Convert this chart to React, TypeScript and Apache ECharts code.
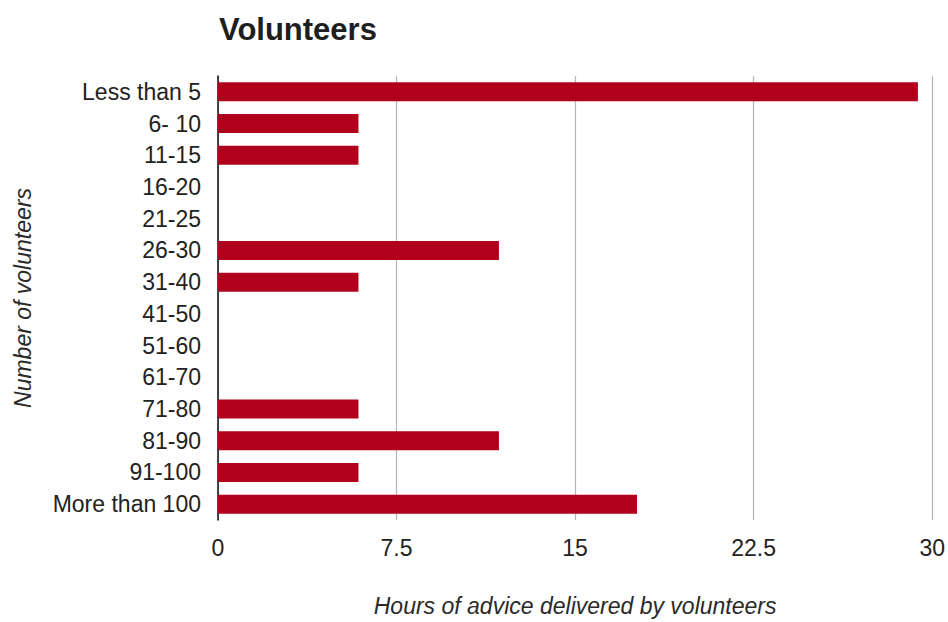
import React, { useEffect, useRef } from "react";
import * as echarts from "echarts";

const categories = [
  "Less than 5",
  "6- 10",
  "11-15",
  "16-20",
  "21-25",
  "26-30",
  "31-40",
  "41-50",
  "51-60",
  "61-70",
  "71-80",
  "81-90",
  "91-100",
  "More than 100",
];

const hours = [29.4, 5.9, 5.9, 0, 0, 11.8, 5.9, 0, 0, 0, 5.9, 11.8, 5.9, 17.6];

const xTicks = { min: 0, max: 30, interval: 7.5 };

const titleText = "Volunteers";
const xName = "Hours of advice delivered by volunteers";
const yName = "Number of volunteers";

const FONT = "'Liberation Sans', Arial, sans-serif";

export default function App() {
  const ref = useRef<HTMLDivElement>(null);
  useEffect(() => {
    if (!ref.current) return;
    const chart = echarts.init(ref.current, null, { renderer: "svg" });
    chart.setOption({
      animation: false,
      backgroundColor: "#ffffff",
      title: {
        text: titleText,
        left: 214,
        top: 9,
        textStyle: {
          fontFamily: FONT,
          fontSize: 31,
          fontWeight: "bold",
          color: "#1e1e1e",
        },
      },
      grid: { left: 218, right: 14, top: 76, bottom: 102, containLabel: false },
      xAxis: {
        type: "value",
        min: xTicks.min,
        max: xTicks.max,
        interval: xTicks.interval,
        name: xName,
        nameLocation: "middle",
        nameGap: 74,
        nameTextStyle: {
          fontFamily: FONT,
          fontSize: 23,
          fontStyle: "italic",
          color: "#2a2a2a",
          verticalAlign: "top",
        },
        axisLine: { show: false },
        axisTick: { show: false },
        splitLine: {
          show: true,
          lineStyle: { color: "#b5b5b5", width: 1.2 },
        },
        axisLabel: {
          fontFamily: FONT,
          fontSize: 23,
          color: "#222",
          margin: 16,
          showMinLabel: true,
          showMaxLabel: true,
        },
      },
      yAxis: {
        type: "category",
        data: categories,
        inverse: true,
        name: yName,
        nameLocation: "middle",
        nameGap: 184,
        nameRotate: 90,
        nameTextStyle: {
          fontFamily: FONT,
          fontSize: 23,
          fontStyle: "italic",
          color: "#2a2a2a",
        },
        axisLine: { show: true, lineStyle: { color: "#111", width: 1.5 } },
        axisTick: { show: false },
        axisLabel: {
          fontFamily: FONT,
          fontSize: 23,
          color: "#222",
          margin: 17,
        },
        splitLine: { show: false },
      },
      series: [
        {
          type: "bar",
          data: hours,
          barWidth: "60%",
          itemStyle: { color: "#b0001c" },
        },
      ],
    });
    return () => chart.dispose();
  }, []);
  return (
    <div
      ref={ref}
      style={{ position: "fixed", left: 0, top: 0, width: 948, height: 622 }}
    />
  );
}
